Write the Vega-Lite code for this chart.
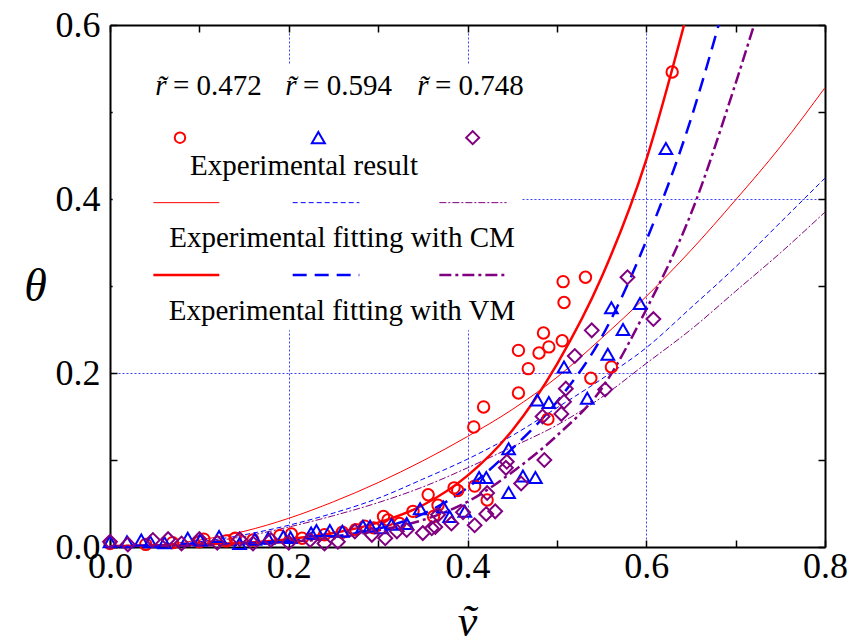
{
  "$schema": "https://vega.github.io/schema/vega-lite/v6.json",
  "width": 715,
  "height": 522,
  "autosize": {"type": "none"},
  "padding": {"left": 110, "top": 25, "right": 25, "bottom": 97},
  "background": "white",
  "config": {"view": {"stroke": null}, "font": "Liberation Serif", "axis": {"labelFont": "Liberation Serif", "titleFont": "Liberation Serif"}},
  "resolve": {"axis": {"x": "independent", "y": "independent"}},
  "datasets": {
    "curves": [
      {"model": "CM", "r": "0.472", "v": 0, "theta": 0},
      {"model": "CM", "r": "0.472", "v": 0.05, "theta": 0.002},
      {"model": "CM", "r": "0.472", "v": 0.1, "theta": 0.008},
      {"model": "CM", "r": "0.472", "v": 0.15, "theta": 0.018},
      {"model": "CM", "r": "0.472", "v": 0.2, "theta": 0.033},
      {"model": "CM", "r": "0.472", "v": 0.25, "theta": 0.052},
      {"model": "CM", "r": "0.472", "v": 0.3, "theta": 0.074},
      {"model": "CM", "r": "0.472", "v": 0.35, "theta": 0.099},
      {"model": "CM", "r": "0.472", "v": 0.4, "theta": 0.127},
      {"model": "CM", "r": "0.472", "v": 0.45, "theta": 0.158},
      {"model": "CM", "r": "0.472", "v": 0.5, "theta": 0.195},
      {"model": "CM", "r": "0.472", "v": 0.55, "theta": 0.24},
      {"model": "CM", "r": "0.472", "v": 0.6, "theta": 0.288},
      {"model": "CM", "r": "0.472", "v": 0.65, "theta": 0.341},
      {"model": "CM", "r": "0.472", "v": 0.7, "theta": 0.399},
      {"model": "CM", "r": "0.472", "v": 0.75, "theta": 0.46},
      {"model": "CM", "r": "0.472", "v": 0.8, "theta": 0.528},
      {"model": "CM", "r": "0.594", "v": 0, "theta": 0},
      {"model": "CM", "r": "0.594", "v": 0.05, "theta": 0.001},
      {"model": "CM", "r": "0.594", "v": 0.1, "theta": 0.006},
      {"model": "CM", "r": "0.594", "v": 0.15, "theta": 0.014},
      {"model": "CM", "r": "0.594", "v": 0.2, "theta": 0.025},
      {"model": "CM", "r": "0.594", "v": 0.25, "theta": 0.039},
      {"model": "CM", "r": "0.594", "v": 0.3, "theta": 0.056},
      {"model": "CM", "r": "0.594", "v": 0.35, "theta": 0.078},
      {"model": "CM", "r": "0.594", "v": 0.4, "theta": 0.101},
      {"model": "CM", "r": "0.594", "v": 0.45, "theta": 0.128},
      {"model": "CM", "r": "0.594", "v": 0.5, "theta": 0.16},
      {"model": "CM", "r": "0.594", "v": 0.55, "theta": 0.193},
      {"model": "CM", "r": "0.594", "v": 0.6, "theta": 0.229},
      {"model": "CM", "r": "0.594", "v": 0.65, "theta": 0.275},
      {"model": "CM", "r": "0.594", "v": 0.7, "theta": 0.322},
      {"model": "CM", "r": "0.594", "v": 0.75, "theta": 0.373},
      {"model": "CM", "r": "0.594", "v": 0.8, "theta": 0.424},
      {"model": "CM", "r": "0.748", "v": 0, "theta": 0},
      {"model": "CM", "r": "0.748", "v": 0.05, "theta": 0.001},
      {"model": "CM", "r": "0.748", "v": 0.1, "theta": 0.005},
      {"model": "CM", "r": "0.748", "v": 0.15, "theta": 0.012},
      {"model": "CM", "r": "0.748", "v": 0.2, "theta": 0.023},
      {"model": "CM", "r": "0.748", "v": 0.25, "theta": 0.036},
      {"model": "CM", "r": "0.748", "v": 0.3, "theta": 0.051},
      {"model": "CM", "r": "0.748", "v": 0.35, "theta": 0.069},
      {"model": "CM", "r": "0.748", "v": 0.4, "theta": 0.091},
      {"model": "CM", "r": "0.748", "v": 0.45, "theta": 0.115},
      {"model": "CM", "r": "0.748", "v": 0.5, "theta": 0.14},
      {"model": "CM", "r": "0.748", "v": 0.55, "theta": 0.172},
      {"model": "CM", "r": "0.748", "v": 0.6, "theta": 0.211},
      {"model": "CM", "r": "0.748", "v": 0.65, "theta": 0.25},
      {"model": "CM", "r": "0.748", "v": 0.7, "theta": 0.294},
      {"model": "CM", "r": "0.748", "v": 0.75, "theta": 0.338},
      {"model": "CM", "r": "0.748", "v": 0.8, "theta": 0.385},
      {"model": "VM", "r": "0.472", "v": 0, "theta": 0.001},
      {"model": "VM", "r": "0.472", "v": 0.05, "theta": 0.002},
      {"model": "VM", "r": "0.472", "v": 0.1, "theta": 0.003},
      {"model": "VM", "r": "0.472", "v": 0.15, "theta": 0.005},
      {"model": "VM", "r": "0.472", "v": 0.2, "theta": 0.009},
      {"model": "VM", "r": "0.472", "v": 0.25, "theta": 0.016},
      {"model": "VM", "r": "0.472", "v": 0.3, "theta": 0.028},
      {"model": "VM", "r": "0.472", "v": 0.35, "theta": 0.048},
      {"model": "VM", "r": "0.472", "v": 0.4, "theta": 0.082},
      {"model": "VM", "r": "0.472", "v": 0.45, "theta": 0.134},
      {"model": "VM", "r": "0.472", "v": 0.5, "theta": 0.21},
      {"model": "VM", "r": "0.472", "v": 0.55, "theta": 0.31},
      {"model": "VM", "r": "0.472", "v": 0.6, "theta": 0.445},
      {"model": "VM", "r": "0.472", "v": 0.6423, "theta": 0.6},
      {"model": "VM", "r": "0.594", "v": 0, "theta": 0.001},
      {"model": "VM", "r": "0.594", "v": 0.05, "theta": 0.001},
      {"model": "VM", "r": "0.594", "v": 0.1, "theta": 0.002},
      {"model": "VM", "r": "0.594", "v": 0.15, "theta": 0.004},
      {"model": "VM", "r": "0.594", "v": 0.2, "theta": 0.007},
      {"model": "VM", "r": "0.594", "v": 0.25, "theta": 0.012},
      {"model": "VM", "r": "0.594", "v": 0.3, "theta": 0.021},
      {"model": "VM", "r": "0.594", "v": 0.35, "theta": 0.038},
      {"model": "VM", "r": "0.594", "v": 0.4, "theta": 0.068},
      {"model": "VM", "r": "0.594", "v": 0.45, "theta": 0.113},
      {"model": "VM", "r": "0.594", "v": 0.5, "theta": 0.167},
      {"model": "VM", "r": "0.594", "v": 0.55, "theta": 0.241},
      {"model": "VM", "r": "0.594", "v": 0.6, "theta": 0.352},
      {"model": "VM", "r": "0.594", "v": 0.65, "theta": 0.492},
      {"model": "VM", "r": "0.594", "v": 0.681, "theta": 0.6},
      {"model": "VM", "r": "0.748", "v": 0, "theta": 0.001},
      {"model": "VM", "r": "0.748", "v": 0.1, "theta": 0.002},
      {"model": "VM", "r": "0.748", "v": 0.15, "theta": 0.003},
      {"model": "VM", "r": "0.748", "v": 0.2, "theta": 0.006},
      {"model": "VM", "r": "0.748", "v": 0.25, "theta": 0.01},
      {"model": "VM", "r": "0.748", "v": 0.3, "theta": 0.019},
      {"model": "VM", "r": "0.748", "v": 0.35, "theta": 0.031},
      {"model": "VM", "r": "0.748", "v": 0.4, "theta": 0.052},
      {"model": "VM", "r": "0.748", "v": 0.45, "theta": 0.086},
      {"model": "VM", "r": "0.748", "v": 0.5, "theta": 0.128},
      {"model": "VM", "r": "0.748", "v": 0.55, "theta": 0.182},
      {"model": "VM", "r": "0.748", "v": 0.6, "theta": 0.273},
      {"model": "VM", "r": "0.748", "v": 0.65, "theta": 0.383},
      {"model": "VM", "r": "0.748", "v": 0.7, "theta": 0.533},
      {"model": "VM", "r": "0.748", "v": 0.7206, "theta": 0.6}
    ],
    "points": [
      {"r": "0.472", "v": 0.0, "theta": 0.004},
      {"r": "0.472", "v": 0.04, "theta": 0.003},
      {"r": "0.472", "v": 0.07, "theta": 0.005},
      {"r": "0.472", "v": 0.1, "theta": 0.006},
      {"r": "0.472", "v": 0.105, "theta": 0.009},
      {"r": "0.472", "v": 0.13, "theta": 0.007},
      {"r": "0.472", "v": 0.14, "theta": 0.01},
      {"r": "0.472", "v": 0.16, "theta": 0.008},
      {"r": "0.472", "v": 0.19, "theta": 0.013},
      {"r": "0.472", "v": 0.203, "theta": 0.015},
      {"r": "0.472", "v": 0.215, "theta": 0.01},
      {"r": "0.472", "v": 0.24, "theta": 0.014},
      {"r": "0.472", "v": 0.26, "theta": 0.017},
      {"r": "0.472", "v": 0.275, "theta": 0.02},
      {"r": "0.472", "v": 0.285, "theta": 0.024},
      {"r": "0.472", "v": 0.295, "theta": 0.022},
      {"r": "0.472", "v": 0.306, "theta": 0.035},
      {"r": "0.472", "v": 0.311, "theta": 0.031},
      {"r": "0.472", "v": 0.324, "theta": 0.027},
      {"r": "0.472", "v": 0.339, "theta": 0.041},
      {"r": "0.472", "v": 0.362, "theta": 0.035},
      {"r": "0.472", "v": 0.356, "theta": 0.06},
      {"r": "0.472", "v": 0.367, "theta": 0.048},
      {"r": "0.472", "v": 0.385, "theta": 0.068},
      {"r": "0.472", "v": 0.389, "theta": 0.065},
      {"r": "0.472", "v": 0.408, "theta": 0.07},
      {"r": "0.472", "v": 0.422, "theta": 0.054},
      {"r": "0.472", "v": 0.407, "theta": 0.138},
      {"r": "0.472", "v": 0.418, "theta": 0.161},
      {"r": "0.472", "v": 0.457, "theta": 0.177},
      {"r": "0.472", "v": 0.457, "theta": 0.226},
      {"r": "0.472", "v": 0.468, "theta": 0.205},
      {"r": "0.472", "v": 0.48, "theta": 0.223},
      {"r": "0.472", "v": 0.485, "theta": 0.246},
      {"r": "0.472", "v": 0.49, "theta": 0.147},
      {"r": "0.472", "v": 0.491, "theta": 0.23},
      {"r": "0.472", "v": 0.506, "theta": 0.237},
      {"r": "0.472", "v": 0.507, "theta": 0.305},
      {"r": "0.472", "v": 0.508, "theta": 0.281},
      {"r": "0.472", "v": 0.532, "theta": 0.31},
      {"r": "0.472", "v": 0.538, "theta": 0.194},
      {"r": "0.472", "v": 0.561, "theta": 0.207},
      {"r": "0.472", "v": 0.629, "theta": 0.546},
      {"r": "0.594", "v": 0.0, "theta": 0.006},
      {"r": "0.594", "v": 0.019, "theta": 0.006},
      {"r": "0.594", "v": 0.035, "theta": 0.008},
      {"r": "0.594", "v": 0.045, "theta": 0.006},
      {"r": "0.594", "v": 0.061, "theta": 0.005},
      {"r": "0.594", "v": 0.087, "theta": 0.01},
      {"r": "0.594", "v": 0.101, "theta": 0.008},
      {"r": "0.594", "v": 0.122, "theta": 0.012},
      {"r": "0.594", "v": 0.145, "theta": 0.004},
      {"r": "0.594", "v": 0.162, "theta": 0.009},
      {"r": "0.594", "v": 0.177, "theta": 0.01},
      {"r": "0.594", "v": 0.194, "theta": 0.012},
      {"r": "0.594", "v": 0.202, "theta": 0.011},
      {"r": "0.594", "v": 0.225, "theta": 0.016},
      {"r": "0.594", "v": 0.231, "theta": 0.019},
      {"r": "0.594", "v": 0.246, "theta": 0.019},
      {"r": "0.594", "v": 0.26, "theta": 0.018},
      {"r": "0.594", "v": 0.283, "theta": 0.024},
      {"r": "0.594", "v": 0.291, "theta": 0.024},
      {"r": "0.594", "v": 0.304, "theta": 0.022},
      {"r": "0.594", "v": 0.315, "theta": 0.026},
      {"r": "0.594", "v": 0.332, "theta": 0.027},
      {"r": "0.594", "v": 0.347, "theta": 0.044},
      {"r": "0.594", "v": 0.373, "theta": 0.046},
      {"r": "0.594", "v": 0.38, "theta": 0.035},
      {"r": "0.594", "v": 0.397, "theta": 0.041},
      {"r": "0.594", "v": 0.413, "theta": 0.08},
      {"r": "0.594", "v": 0.421, "theta": 0.08},
      {"r": "0.594", "v": 0.446, "theta": 0.113},
      {"r": "0.594", "v": 0.446, "theta": 0.0625},
      {"r": "0.594", "v": 0.462, "theta": 0.0816},
      {"r": "0.594", "v": 0.476, "theta": 0.08},
      {"r": "0.594", "v": 0.478, "theta": 0.169},
      {"r": "0.594", "v": 0.491, "theta": 0.166},
      {"r": "0.594", "v": 0.508, "theta": 0.207},
      {"r": "0.594", "v": 0.534, "theta": 0.171},
      {"r": "0.594", "v": 0.557, "theta": 0.2215},
      {"r": "0.594", "v": 0.561, "theta": 0.275},
      {"r": "0.594", "v": 0.574, "theta": 0.25},
      {"r": "0.594", "v": 0.593, "theta": 0.28},
      {"r": "0.594", "v": 0.622, "theta": 0.458},
      {"r": "0.748", "v": 0.0, "theta": 0.006},
      {"r": "0.748", "v": 0.02, "theta": 0.003},
      {"r": "0.748", "v": 0.048, "theta": 0.008},
      {"r": "0.748", "v": 0.065, "theta": 0.009},
      {"r": "0.748", "v": 0.08, "theta": 0.004},
      {"r": "0.748", "v": 0.1, "theta": 0.009},
      {"r": "0.748", "v": 0.12, "theta": 0.005},
      {"r": "0.748", "v": 0.145, "theta": 0.009},
      {"r": "0.748", "v": 0.16, "theta": 0.004},
      {"r": "0.748", "v": 0.18, "theta": 0.008},
      {"r": "0.748", "v": 0.2, "theta": 0.005},
      {"r": "0.748", "v": 0.224, "theta": 0.008},
      {"r": "0.748", "v": 0.24, "theta": 0.004},
      {"r": "0.748", "v": 0.255, "theta": 0.006},
      {"r": "0.748", "v": 0.274, "theta": 0.018},
      {"r": "0.748", "v": 0.293, "theta": 0.014},
      {"r": "0.748", "v": 0.308, "theta": 0.01},
      {"r": "0.748", "v": 0.321, "theta": 0.018},
      {"r": "0.748", "v": 0.332, "theta": 0.0195},
      {"r": "0.748", "v": 0.35, "theta": 0.016},
      {"r": "0.748", "v": 0.36, "theta": 0.0215},
      {"r": "0.748", "v": 0.364, "theta": 0.023},
      {"r": "0.748", "v": 0.367, "theta": 0.037},
      {"r": "0.748", "v": 0.382, "theta": 0.027},
      {"r": "0.748", "v": 0.395, "theta": 0.04},
      {"r": "0.748", "v": 0.408, "theta": 0.025},
      {"r": "0.748", "v": 0.421, "theta": 0.038},
      {"r": "0.748", "v": 0.431, "theta": 0.041},
      {"r": "0.748", "v": 0.422, "theta": 0.062},
      {"r": "0.748", "v": 0.443, "theta": 0.091},
      {"r": "0.748", "v": 0.444, "theta": 0.098},
      {"r": "0.748", "v": 0.46, "theta": 0.073},
      {"r": "0.748", "v": 0.484, "theta": 0.15},
      {"r": "0.748", "v": 0.486, "theta": 0.1},
      {"r": "0.748", "v": 0.505, "theta": 0.153},
      {"r": "0.748", "v": 0.508, "theta": 0.167},
      {"r": "0.748", "v": 0.51, "theta": 0.182},
      {"r": "0.748", "v": 0.52, "theta": 0.2195},
      {"r": "0.748", "v": 0.539, "theta": 0.249},
      {"r": "0.748", "v": 0.554, "theta": 0.181},
      {"r": "0.748", "v": 0.579, "theta": 0.31},
      {"r": "0.748", "v": 0.608, "theta": 0.262}
    ]
  },
  "layer": [
    {
      "data": {"name": "curves"},
      "transform": [{"filter": "datum.model == 'CM' && datum.r == '0.472'"}],
      "mark": {"type": "line", "color": "#ff0000", "strokeWidth": 1, "interpolate": "monotone", "clip": true},
      "encoding": {
        "x": {
          "field": "v", "type": "quantitative",
          "scale": {"domain": [0, 0.8], "nice": false, "zero": false},
          "axis": {
            "orient": "bottom",
            "values": [0, 0.1, 0.2, 0.3, 0.4, 0.5, 0.6, 0.7, 0.8],
            "labelExpr": "round(datum.value*10) % 2 == 0 ? format(datum.value, '.1f') : ''",
            "labelFont": "Liberation Serif", "labelFontSize": 36, "labelColor": "black",
            "labelPadding": 9, "labelFlush": false, "labelOverlap": false,
            "tickSize": -7, "tickColor": "black", "tickWidth": 1.5,
            "domainColor": "black", "domainWidth": 2,
            "grid": true, "gridColor": "#4040ff", "gridDash": [2, 2], "gridWidth": 1,
            "gridOpacity": {"condition": {"test": "round(datum.value*10) % 2 == 1 || datum.value < 0.01 || datum.value > 0.79", "value": 0}, "value": 1},
            "title": "ṽ", "titleFont": "Liberation Serif", "titleFontStyle": "italic", "titleFontWeight": "normal",
            "titleFontSize": 44, "titleColor": "black", "titleX": 357, "titleY": 88, "titleBaseline": "alphabetic", "titleAlign": "center"
          }
        },
        "y": {
          "field": "theta", "type": "quantitative",
          "scale": {"domain": [0, 0.6], "nice": false, "zero": false},
          "axis": {
            "orient": "left",
            "values": [0, 0.1, 0.2, 0.3, 0.4, 0.5, 0.6],
            "labelExpr": "round(datum.value*10) % 2 == 0 ? format(datum.value, '.1f') : ''",
            "labelFont": "Liberation Serif", "labelFontSize": 36, "labelColor": "black",
            "labelPadding": 17, "labelFlush": false, "labelOverlap": false,
            "tickSize": -7, "tickColor": "black", "tickWidth": 1.5,
            "domainColor": "black", "domainWidth": 2,
            "grid": true, "gridColor": "#4040ff", "gridDash": [2, 2], "gridWidth": 1,
            "gridOpacity": {"condition": {"test": "round(datum.value*10) % 2 == 1 || datum.value < 0.01 || datum.value > 0.59", "value": 0}, "value": 1},
            "title": "θ", "titleFont": "Liberation Serif", "titleFontStyle": "italic", "titleFontWeight": "normal",
            "titleFontSize": 46, "titleColor": "black", "titleAngle": 0, "titleX": -75, "titleY": 261,
            "titleBaseline": "middle", "titleAlign": "center"
          }
        }
      }
    },
    {
      "data": {"name": "curves"},
      "transform": [{"filter": "datum.model == 'CM' && datum.r == '0.594'"}],
      "mark": {"type": "line", "color": "#0000ff", "strokeWidth": 1, "strokeDash": [5, 3], "interpolate": "monotone", "clip": true},
      "encoding": {
        "x": {
          "field": "v", "type": "quantitative",
          "axis": {"orient": "top", "values": [0, 0.1, 0.2, 0.3, 0.4, 0.5, 0.6, 0.7, 0.8], "labels": false, "tickSize": -7, "tickColor": "black", "tickWidth": 1.5, "domainColor": "black", "domainWidth": 2, "grid": false, "title": null}
        },
        "y": {
          "field": "theta", "type": "quantitative",
          "axis": {"orient": "right", "values": [0, 0.1, 0.2, 0.3, 0.4, 0.5, 0.6], "labels": false, "tickSize": -7, "tickColor": "black", "tickWidth": 1.5, "domainColor": "black", "domainWidth": 2, "grid": false, "title": null}
        }
      }
    },
    {
      "data": {"values": [{}]},
      "mark": {"type": "rect", "color": "white"},
      "encoding": {
        "x": {"datum": 0.003, "type": "quantitative", "axis": null},
        "x2": {"datum": 0.461},
        "y": {"datum": 0.249, "type": "quantitative", "axis": null},
        "y2": {"datum": 0.554}
      }
    },
    {
      "data": {"name": "curves"},
      "transform": [{"filter": "datum.model == 'CM' && datum.r == '0.748'"}],
      "mark": {"type": "line", "color": "#800080", "strokeWidth": 1, "strokeDash": [7, 2, 2, 2], "interpolate": "monotone", "clip": true},
      "encoding": {
        "x": {"field": "v", "type": "quantitative", "axis": null},
        "y": {"field": "theta", "type": "quantitative", "axis": null}
      }
    },
    {
      "data": {"name": "curves"},
      "transform": [{"filter": "datum.model == 'VM' && datum.r == '0.472'"}],
      "mark": {"type": "line", "color": "#ff0000", "strokeWidth": 2.5, "interpolate": "monotone", "clip": true},
      "encoding": {
        "x": {"field": "v", "type": "quantitative", "axis": null},
        "y": {"field": "theta", "type": "quantitative", "axis": null}
      }
    },
    {
      "data": {"name": "curves"},
      "transform": [{"filter": "datum.model == 'VM' && datum.r == '0.594'"}],
      "mark": {"type": "line", "color": "#0000ff", "strokeWidth": 2.5, "strokeDash": [14, 8], "interpolate": "monotone", "clip": true},
      "encoding": {
        "x": {"field": "v", "type": "quantitative", "axis": null},
        "y": {"field": "theta", "type": "quantitative", "axis": null}
      }
    },
    {
      "data": {"name": "curves"},
      "transform": [{"filter": "datum.model == 'VM' && datum.r == '0.748'"}],
      "mark": {"type": "line", "color": "#800080", "strokeWidth": 2.5, "strokeDash": [12, 4, 3, 4], "interpolate": "monotone", "clip": true},
      "encoding": {
        "x": {"field": "v", "type": "quantitative", "axis": null},
        "y": {"field": "theta", "type": "quantitative", "axis": null}
      }
    },
    {
      "data": {"name": "points"},
      "mark": {"type": "point", "filled": false, "strokeWidth": 2, "opacity": 1, "clip": false},
      "encoding": {
        "x": {"field": "v", "type": "quantitative", "axis": null},
        "y": {"field": "theta", "type": "quantitative", "axis": null},
        "shape": {"field": "r", "type": "nominal", "scale": {"domain": ["0.472", "0.594", "0.748"], "range": ["circle", "triangle-up", "diamond"]}, "legend": null},
        "color": {"field": "r", "type": "nominal", "scale": {"domain": ["0.472", "0.594", "0.748"], "range": ["#ff0000", "#0000ff", "#800080"]}, "legend": null},
        "size": {"field": "r", "type": "nominal", "scale": {"domain": ["0.472", "0.594", "0.748"], "range": [130, 190, 180]}, "legend": null}
      }
    },
    {
      "data": {"values": [{}]},
      "mark": {"type": "point", "filled": false, "strokeWidth": 2, "opacity": 1, "shape": "circle", "size": 110, "color": "#ff0000"},
      "encoding": {"x": {"datum": 0.0783, "type": "quantitative", "axis": null}, "y": {"datum": 0.4705, "type": "quantitative", "axis": null}}
    },
    {
      "data": {"values": [{}]},
      "mark": {"type": "point", "filled": false, "strokeWidth": 2, "opacity": 1, "shape": "triangle-up", "size": 170, "color": "#0000ff"},
      "encoding": {"x": {"datum": 0.2331, "type": "quantitative", "axis": null}, "y": {"datum": 0.4705, "type": "quantitative", "axis": null}}
    },
    {
      "data": {"values": [{}]},
      "mark": {"type": "point", "filled": false, "strokeWidth": 2, "opacity": 1, "shape": "diamond", "size": 170, "color": "#800080"},
      "encoding": {"x": {"datum": 0.4058, "type": "quantitative", "axis": null}, "y": {"datum": 0.4705, "type": "quantitative", "axis": null}}
    },
    {
      "data": {"values": [{}]},
      "mark": {"type": "rule", "color": "#ff0000", "strokeWidth": 1},
      "encoding": {"x": {"datum": 0.0485, "type": "quantitative", "axis": null}, "x2": {"datum": 0.1223}, "y": {"datum": 0.3958, "type": "quantitative", "axis": null}}
    },
    {
      "data": {"values": [{}]},
      "mark": {"type": "rule", "color": "#0000ff", "strokeWidth": 1, "strokeDash": [5, 3]},
      "encoding": {"x": {"datum": 0.2044, "type": "quantitative", "axis": null}, "x2": {"datum": 0.279}, "y": {"datum": 0.3958, "type": "quantitative", "axis": null}}
    },
    {
      "data": {"values": [{}]},
      "mark": {"type": "rule", "color": "#800080", "strokeWidth": 1, "strokeDash": [7, 2, 2, 2]},
      "encoding": {"x": {"datum": 0.3685, "type": "quantitative", "axis": null}, "x2": {"datum": 0.4438}, "y": {"datum": 0.3958, "type": "quantitative", "axis": null}}
    },
    {
      "data": {"values": [{}]},
      "mark": {"type": "rule", "color": "#ff0000", "strokeWidth": 2.5},
      "encoding": {"x": {"datum": 0.0485, "type": "quantitative", "axis": null}, "x2": {"datum": 0.1223}, "y": {"datum": 0.3126, "type": "quantitative", "axis": null}}
    },
    {
      "data": {"values": [{}]},
      "mark": {"type": "rule", "color": "#0000ff", "strokeWidth": 2.5, "strokeDash": [14, 8]},
      "encoding": {"x": {"datum": 0.2044, "type": "quantitative", "axis": null}, "x2": {"datum": 0.279}, "y": {"datum": 0.3126, "type": "quantitative", "axis": null}}
    },
    {
      "data": {"values": [{}]},
      "mark": {"type": "rule", "color": "#800080", "strokeWidth": 2.5, "strokeDash": [12, 4, 3, 4]},
      "encoding": {"x": {"datum": 0.3685, "type": "quantitative", "axis": null}, "x2": {"datum": 0.4438}, "y": {"datum": 0.3126, "type": "quantitative", "axis": null}}
    },
    {
      "data": {"values": [{}]},
      "mark": {"type": "text", "font": "Liberation Serif", "fontStyle": "italic", "fontSize": 29, "color": "black", "align": "center", "baseline": "alphabetic"},
      "encoding": {"x": {"datum": 0.057, "type": "quantitative", "axis": null}, "y": {"datum": 0.5195, "type": "quantitative", "axis": null}, "text": {"value": "r̃"}}
    },
    {
      "data": {"values": [{}]},
      "mark": {"type": "text", "font": "Liberation Serif", "fontSize": 29, "color": "black", "align": "left", "baseline": "alphabetic"},
      "encoding": {"x": {"datum": 0.0705, "type": "quantitative", "axis": null}, "y": {"datum": 0.5195, "type": "quantitative", "axis": null}, "text": {"value": "= 0.472"}}
    },
    {
      "data": {"values": [{}]},
      "mark": {"type": "text", "font": "Liberation Serif", "fontStyle": "italic", "fontSize": 29, "color": "black", "align": "center", "baseline": "alphabetic"},
      "encoding": {"x": {"datum": 0.2025, "type": "quantitative", "axis": null}, "y": {"datum": 0.5195, "type": "quantitative", "axis": null}, "text": {"value": "r̃"}}
    },
    {
      "data": {"values": [{}]},
      "mark": {"type": "text", "font": "Liberation Serif", "fontSize": 29, "color": "black", "align": "left", "baseline": "alphabetic"},
      "encoding": {"x": {"datum": 0.216, "type": "quantitative", "axis": null}, "y": {"datum": 0.5195, "type": "quantitative", "axis": null}, "text": {"value": "= 0.594"}}
    },
    {
      "data": {"values": [{}]},
      "mark": {"type": "text", "font": "Liberation Serif", "fontStyle": "italic", "fontSize": 29, "color": "black", "align": "center", "baseline": "alphabetic"},
      "encoding": {"x": {"datum": 0.35, "type": "quantitative", "axis": null}, "y": {"datum": 0.5195, "type": "quantitative", "axis": null}, "text": {"value": "r̃"}}
    },
    {
      "data": {"values": [{}]},
      "mark": {"type": "text", "font": "Liberation Serif", "fontSize": 29, "color": "black", "align": "left", "baseline": "alphabetic"},
      "encoding": {"x": {"datum": 0.3636, "type": "quantitative", "axis": null}, "y": {"datum": 0.5195, "type": "quantitative", "axis": null}, "text": {"value": "= 0.748"}}
    },
    {
      "data": {"values": [{}]},
      "mark": {"type": "text", "font": "Liberation Serif", "fontSize": 29, "color": "black", "align": "center", "baseline": "alphabetic"},
      "encoding": {"x": {"datum": 0.2171, "type": "quantitative", "axis": null}, "y": {"datum": 0.4276, "type": "quantitative", "axis": null}, "text": {"value": "Experimental result"}}
    },
    {
      "data": {"values": [{}]},
      "mark": {"type": "text", "font": "Liberation Serif", "fontSize": 29, "color": "black", "align": "center", "baseline": "alphabetic"},
      "encoding": {"x": {"datum": 0.2596, "type": "quantitative", "axis": null}, "y": {"datum": 0.3452, "type": "quantitative", "axis": null}, "text": {"value": "Experimental fitting with CM"}}
    },
    {
      "data": {"values": [{}]},
      "mark": {"type": "text", "font": "Liberation Serif", "fontSize": 29, "color": "black", "align": "center", "baseline": "alphabetic"},
      "encoding": {"x": {"datum": 0.2596, "type": "quantitative", "axis": null}, "y": {"datum": 0.2609, "type": "quantitative", "axis": null}, "text": {"value": "Experimental fitting with VM"}}
    }
  ]
}
